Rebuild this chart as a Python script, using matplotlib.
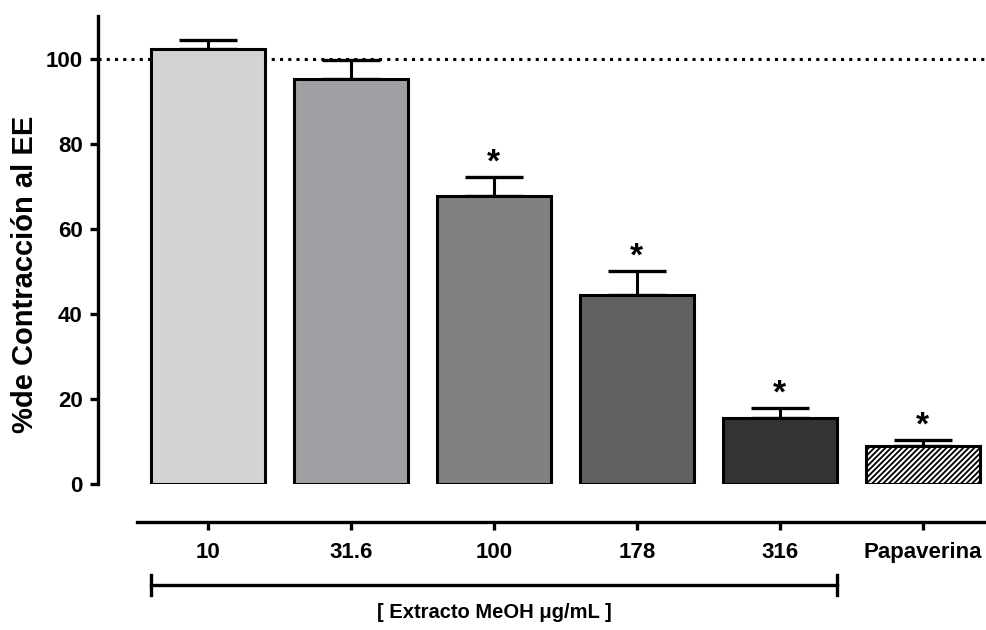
import numpy as np
import matplotlib.pyplot as plt
from matplotlib.transforms import blended_transform_factory

plt.rcParams['font.family'] = ['Liberation Sans', 'DejaVu Sans']
plt.rcParams['font.weight'] = 'bold'
plt.rcParams['hatch.linewidth'] = 1.3

labels = ['10', '31.6', '100', '178', '316', 'Papaverina']
means = [102.2, 95.3, 67.8, 44.5, 15.5, 8.9]
sem = [2.2, 4.4, 4.3, 5.5, 2.4, 1.5]
signif = [False, False, True, True, True, True]
colors = ['#d3d3d3', '#a09fa4', '#808080', '#606060', '#333333', 'white']

fig = plt.figure(figsize=(9.87, 6.3), dpi=100)
ax = fig.add_axes([98/987, (630-484)/630, (987-98)/987, (484-16)/630])

x = np.arange(len(labels))
bars = ax.bar(x, means, width=0.8, color=colors, edgecolor='black', linewidth=2.2, zorder=3)
bars[-1].set_hatch('//////')

ax.errorbar(x, means, yerr=[np.zeros(len(sem)), sem], fmt='none', ecolor='black',
            elinewidth=2.2, capsize=21, capthick=2.4, zorder=2)

# dotted reference line at 100 %
ax.axhline(100, color='black', linestyle=(0, (1, 1.7)), linewidth=2.2, zorder=1)

for xi, m, s, sg in zip(x, means, sem, signif):
    if sg:
        ax.text(xi, m + s - 0.4, '*', ha='center', va='bottom', fontsize=24)

ax.set_xlim(-0.77, 5.45)
ax.set_ylim(0, 110)
ax.set_yticks([0, 20, 40, 60, 80, 100])
ax.set_xticks(x)
ax.set_xticklabels(labels)

for side in ['top', 'right']:
    ax.spines[side].set_visible(False)
ax.spines['left'].set_linewidth(2.4)
ax.spines['left'].set_bounds(0, 110)
ax.spines['bottom'].set_linewidth(2.4)
ax.spines['bottom'].set_position(('outward', 27))
ax.spines['bottom'].set_bounds(-0.5, 5.45)

ax.tick_params(axis='both', labelsize=16, width=2.4, length=6, pad=5)
ax.tick_params(axis='x', pad=9)
ax.set_ylabel('%de Contracción al EE', fontsize=21, fontweight='bold')
ax.yaxis.set_label_coords(-0.066, 0.447)

# bracket under the extract concentrations
tr = blended_transform_factory(ax.transData, ax.transAxes)
yb = -101/468
ax.plot([-0.4, 4.4], [yb, yb], color='black', lw=2.4, transform=tr, clip_on=False)
for xe in [-0.4, 4.4]:
    ax.plot([xe, xe], [yb - 10/468, yb + 10/468], color='black', lw=2.4,
            transform=tr, clip_on=False)
ax.text(2.0, -129/468, '[ Extracto MeOH \u03bcg/mL ]', ha='center', va='center',
        fontsize=14.5, fontweight='bold', transform=tr)

fig.savefig('out.png', dpi=100)
